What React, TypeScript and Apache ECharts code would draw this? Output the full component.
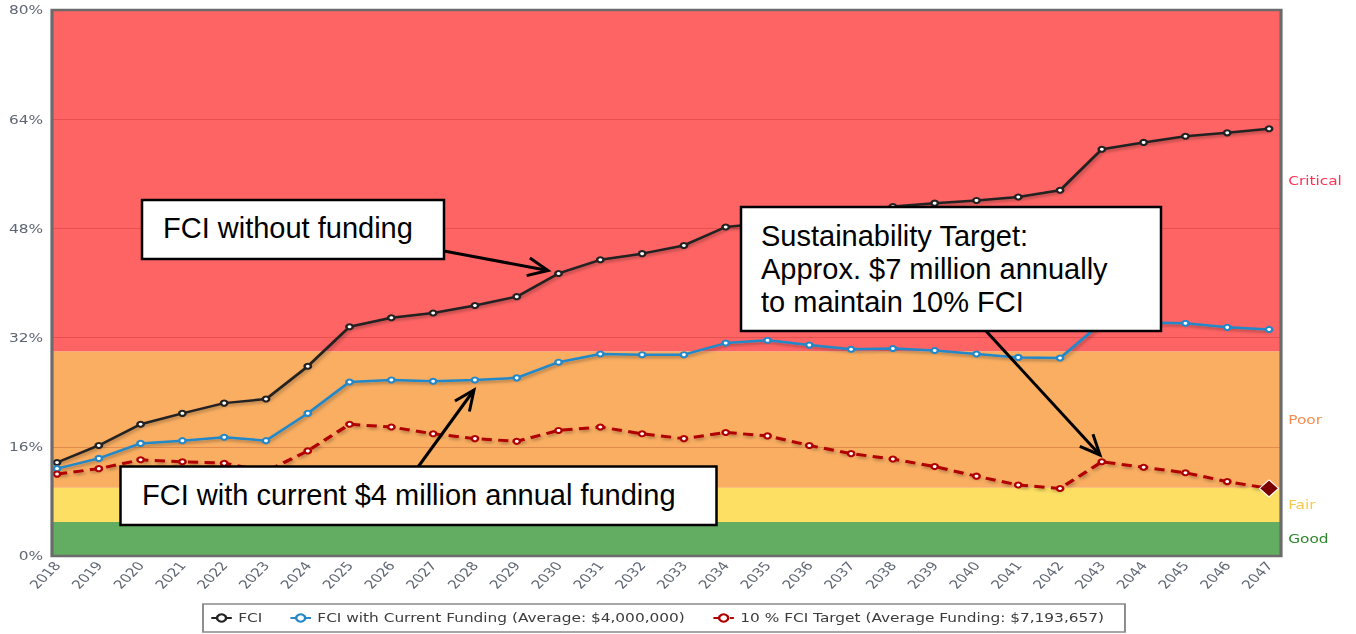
import React, { useEffect, useRef } from 'react';
import * as echarts from 'echarts';

// ---------- data ----------
const years = [
  2018, 2019, 2020, 2021, 2022, 2023, 2024, 2025, 2026, 2027,
  2028, 2029, 2030, 2031, 2032, 2033, 2034, 2035, 2036, 2037,
  2038, 2039, 2040, 2041, 2042, 2043, 2044, 2045, 2046, 2047,
];
const fci = [
  13.7, 16.2, 19.3, 20.9, 22.4, 23.0, 27.8, 33.6, 34.9, 35.6,
  36.7, 38.0, 41.4, 43.4, 44.3, 45.5, 48.2, 48.8, 49.6, 50.4,
  51.2, 51.7, 52.1, 52.6, 53.6, 59.6, 60.6, 61.5, 62.0, 62.6,
];
const fciCurrent = [
  12.8, 14.3, 16.5, 16.9, 17.4, 16.9, 20.9, 25.5, 25.8, 25.6,
  25.8, 26.1, 28.4, 29.6, 29.5, 29.5, 31.2, 31.6, 30.9, 30.3,
  30.4, 30.1, 29.6, 29.1, 29.0, 34.2, 34.2, 34.1, 33.5, 33.2,
];
const fciTarget = [
  12.0, 12.8, 14.1, 13.8, 13.6, 12.4, 15.4, 19.3, 18.9, 17.9,
  17.2, 16.8, 18.4, 18.9, 17.9, 17.2, 18.1, 17.6, 16.2, 15.0,
  14.2, 13.1, 11.7, 10.4, 9.9, 13.8, 13.0, 12.2, 10.9, 9.9,
];
const bandNames = ['Good', 'Fair', 'Poor', 'Critical'];
const bandFrom = [0, 5, 10, 30];
const bandTo = [5, 10, 30, 80];
const bandFill = ['#63ad63', '#fddf63', '#f9ae62', '#ff6464'];
const bandLabelColor = ['#2d862d', '#f9c846', '#f88a4e', '#ff3052'];
const legendNames = [
  'FCI',
  'FCI with Current Funding (Average: $4,000,000)',
  '10 % FCI Target (Average Funding: $7,193,657)',
];
const notes = [
  'FCI without funding',
  'Sustainability Target:\nApprox. $7 million annually\nto maintain 10% FCI',
  'FCI with current $4 million annual funding',
];

// ---------- layout ----------
const W = 1356;
const H = 634;
const S = 1.28; // horizontal stretch of the chart image
const W0 = W / S;
const GL = 52 / S;
const GR = (W - 1281) / S;
const GT = 10;
const GB = H - 556;
const X_MIN = 2017.88;
const X_MAX = 2047.275;

const SMALL_FONT = '"DejaVu Sans", Verdana, sans-serif';
const BIG_FONT = '"Liberation Sans", Arial, sans-serif';
const AXIS_COLOR = '#5f6673';

const bandMid = bandFrom.map((f, i) => (f + bandTo[i]) / 2);

function arrow(x1: number, y1: number, x2: number, y2: number) {
  const ang = Math.atan2(y2 - y1, x2 - x1);
  const len = 22;
  const half = (24 * Math.PI) / 180;
  const a1 = [x2 - len * Math.cos(ang - half), y2 - len * Math.sin(ang - half)];
  const a2 = [x2 - len * Math.cos(ang + half), y2 - len * Math.sin(ang + half)];
  return [
    {
      type: 'line',
      shape: { x1, y1, x2, y2 },
      style: { stroke: '#000', lineWidth: 3 },
      z: 10,
    },
    {
      type: 'polyline',
      shape: { points: [a1, [x2, y2], a2] },
      style: { stroke: '#000', lineWidth: 3, fill: 'none', lineJoin: 'miter' },
      z: 10,
    },
  ];
}

function box(x: number, y: number, w: number, h: number) {
  return {
    type: 'rect',
    shape: { x, y, width: w, height: h },
    style: { fill: '#fff', stroke: '#000', lineWidth: 2.5 },
    z: 20,
  };
}

function note(text: string, x: number, top: number) {
  return {
    type: 'text',
    x,
    y: top,
    style: {
      text,
      font: `29px ${BIG_FONT}`,
      fill: '#000',
      lineHeight: 33,
      align: 'left',
      verticalAlign: 'top',
    },
    z: 30,
  };
}

export default function App() {
  const chartRef = useRef<HTMLDivElement>(null);
  const annoRef = useRef<HTMLDivElement>(null);

  useEffect(() => {
    document.body.style.margin = '0';
    if (!chartRef.current || !annoRef.current) return;
    const chart = echarts.init(chartRef.current, null, { renderer: 'svg' });
    const anno = echarts.init(annoRef.current, null, { renderer: 'svg' });

    const shadow = {
      shadowColor: 'rgba(0,0,0,0.3)',
      shadowBlur: 3,
      shadowOffsetX: 1,
      shadowOffsetY: 2,
    };

    const rich: Record<string, any> = {};
    bandNames.forEach((_, i) => {
      rich['b' + i] = { color: bandLabelColor[i], fontSize: 12, fontFamily: SMALL_FONT };
    });

    chart.setOption({
      animation: false,
      grid: {
        left: GL,
        right: GR,
        top: GT,
        bottom: GB,
        containLabel: false,
        outerBoundsMode: 'none',
      },
      xAxis: {
        type: 'value',
        min: X_MIN,
        max: X_MAX,
        axisLine: { show: false },
        axisTick: { show: false },
        splitLine: { show: false },
        axisLabel: {
          customValues: years,
          formatter: (v: number) => String(v),
          rotate: 52,
          margin: 7,
          color: AXIS_COLOR,
          fontSize: 12,
          fontFamily: SMALL_FONT,
        },
      },
      yAxis: [
        {
          type: 'value',
          min: 0,
          max: 80,
          interval: 16,
          z: 2,
          axisLine: { show: false },
          axisTick: { show: false },
          axisLabel: {
            formatter: '{value}%',
            margin: 7,
            color: AXIS_COLOR,
            fontSize: 12,
            fontFamily: SMALL_FONT,
          },
          splitLine: { lineStyle: { color: 'rgba(128,0,0,0.2)', width: 1 } },
        },
        {
          type: 'value',
          position: 'right',
          min: 0,
          max: 80,
          axisLine: { show: false },
          axisTick: { show: false },
          splitLine: { show: false },
          axisLabel: {
            customValues: bandMid,
            margin: 6,
            formatter: (v: number) => {
              const i = bandMid.indexOf(Number(v));
              return i >= 0 ? `{b${i}|${bandNames[i]}}` : '';
            },
            rich,
          },
        },
      ],
      legend: {
        data: legendNames,
        left: 203 / S,
        top: 604,
        orient: 'horizontal',
        itemWidth: 16,
        itemHeight: 9,
        itemGap: 21,
        padding: [8, 16, 8, 5.5],
        borderColor: '#8a8a8a',
        borderWidth: 1.5,
        backgroundColor: '#fff',
        textStyle: { color: '#3c3c3c', fontSize: 12, fontFamily: SMALL_FONT },
      },
      series: [
        {
          name: legendNames[0],
          type: 'line',
          z: 3,
          data: years.map((y, i) => [y, fci[i]]),
          symbol: 'emptyCircle',
          symbolSize: 5,
          lineStyle: { color: '#222', width: 2.5, ...shadow },
          itemStyle: { color: '#222', borderWidth: 1.5 },
          markArea: {
            silent: true,
            z: 1,
            data: bandFrom.map((f, i) => [
              { yAxis: f, itemStyle: { color: bandFill[i], opacity: 1, borderWidth: 0 } },
              { yAxis: bandTo[i] },
            ]),
          },
        },
        {
          name: legendNames[1],
          type: 'line',
          z: 3,
          data: years.map((y, i) => [y, fciCurrent[i]]),
          symbol: 'emptyCircle',
          symbolSize: 5,
          lineStyle: { color: '#2488c8', width: 2.5, ...shadow },
          itemStyle: { color: '#2488c8', borderWidth: 1.5 },
        },
        {
          name: legendNames[2],
          type: 'line',
          z: 3,
          data: years.map((y, i) =>
            i === years.length - 1
              ? {
                  value: [y, fciTarget[i]],
                  symbol: 'diamond',
                  symbolSize: [15, 17],
                  itemStyle: { color: '#7a0000', borderColor: '#fff', borderWidth: 1 },
                }
              : [y, fciTarget[i]]
          ),
          symbol: 'emptyCircle',
          symbolSize: 5,
          lineStyle: { color: '#b00000', width: 3, type: [8, 5], ...shadow },
          itemStyle: { color: '#b00000', borderWidth: 1.5 },
        },
      ],
      graphic: {
        elements: [
          {
            type: 'rect',
            silent: true,
            z: 100,
            shape: { x: GL, y: GT, width: W0 - GL - GR, height: H - GT - GB },
            style: { fill: 'none', stroke: '#6b6b6b', lineWidth: 2.5 },
          },
        ],
      },
    });

    anno.setOption({
      animation: false,
      graphic: {
        elements: [
          ...arrow(444, 251, 548, 270.5),
          ...arrow(418, 467, 474, 390),
          ...arrow(986, 331, 1100, 455),
          box(142, 200, 302, 59),
          box(741, 207, 420, 124),
          box(120.5, 466.5, 596, 58.5),
          note(notes[0], 163, 211.5),
          note(notes[1], 761, 219.5),
          note(notes[2], 142, 478.5),
        ],
      },
    });

    return () => {
      chart.dispose();
      anno.dispose();
    };
  }, []);

  return (
    <div style={{ position: 'relative', width: W, height: H, overflow: 'hidden', background: '#fff' }}>
      <div
        ref={chartRef}
        style={{
          position: 'absolute',
          left: 0,
          top: 0,
          width: W0,
          height: H,
          transform: `scaleX(${S})`,
          transformOrigin: '0 0',
        }}
      />
      <div
        ref={annoRef}
        style={{ position: 'absolute', left: 0, top: 0, width: W, height: H, pointerEvents: 'none' }}
      />
    </div>
  );
}
